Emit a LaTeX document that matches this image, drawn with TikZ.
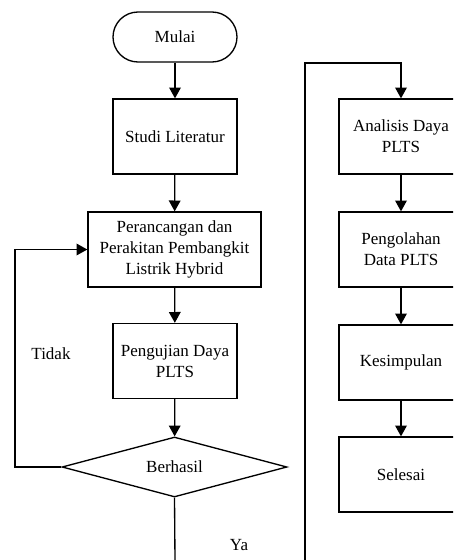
\documentclass[tikz,border=0pt]{standalone}
\usepackage{fontspec}
\setmainfont{Liberation Serif}
\usetikzlibrary{shapes.geometric,arrows.meta}
\tikzset{
  garis/.style={line width=0.8pt},
  panah/.style={garis, -{Triangle[width=7pt,length=6.5pt]}},
  proses/.style={draw, garis, align=center, inner sep=1pt,
    minimum width=74.4pt, minimum height=45pt,
    font=\fontsize{10.2pt}{12.6pt}\selectfont},
  terminal/.style={proses, rounded corners=15pt, minimum height=30pt},
  keputusan/.style={draw, garis, diamond, aspect=3.75, inner sep=0pt,
    minimum width=135pt, minimum height=36pt,
    font=\fontsize{10.2pt}{12.6pt}\selectfont},
  label/.style={font=\fontsize{10.2pt}{12.6pt}\selectfont}
}
\begin{document}
\begin{tikzpicture}[x=0.6pt, y=-0.6pt]
  \clip (0,0) rectangle (453,560);
  % kolom kiri
  \node[terminal] (mulai) at (175,37) {Mulai};
  \node[proses] (studi) at (175,136.5) {Studi Literatur};
  \node[proses, minimum width=103.8pt] (rancang) at (174.5,249.5)
    {Perancangan dan\\Perakitan Pembangkit\\Listrik Hybrid};
  \node[proses] (uji) at (175,361) {Pengujian Daya\\PLTS};
  \node[keputusan] (hasil) at (174.5,467) {Berhasil};
  \node[label] (tidak) at (51,354) {Tidak};
  \node[label] (ya) at (239,545) {Ya};
  \coordinate (balik) at (15,467);
  \coordinate (bawah) at (175,560);
  % kolom kanan
  \node[proses] (analisis) at (401,136.5) {Analisis Daya\\PLTS};
  \node[proses] (olah) at (401,249.5) {Pengolahan\\Data PLTS};
  \node[proses] (simpul) at (401,362.5) {Kesimpulan};
  \node[proses] (selesai) at (401,474.5) {Selesai};
  \coordinate (lanjut) at (305,560);
  \coordinate (atas) at (305,63);
  % garis
  \draw[panah] (mulai) -- (studi);
  \draw[panah] (studi) -- (rancang);
  \draw[panah] (rancang) -- (uji);
  \draw[panah] (uji) -- (hasil);
  \draw[panah] (hasil.west) -- (balik) |- (rancang.west);
  \draw[garis] (hasil.south) -- (bawah);
  \draw[panah] (lanjut) -- (atas) -| (analisis.north);
  \draw[panah] (analisis) -- (olah);
  \draw[panah] (olah) -- (simpul);
  \draw[panah] (simpul) -- (selesai);
\end{tikzpicture}
\end{document}
